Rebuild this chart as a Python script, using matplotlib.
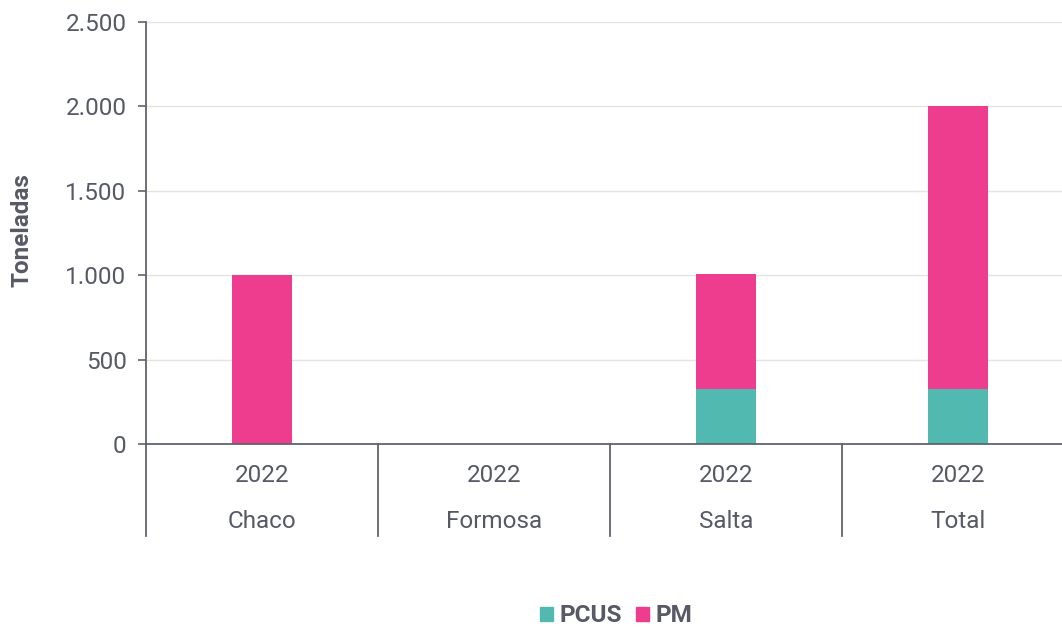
import matplotlib
matplotlib.use("Agg")
import matplotlib.pyplot as plt
from matplotlib.lines import Line2D
from matplotlib.patches import Patch
import numpy as np

regions = ["Chaco", "Formosa", "Salta", "Total"]
years = ["2022", "2022", "2022", "2022"]
pcus = [0, 0, 325, 325]
pm = [1000, 0, 680, 1680]

teal = "#52B9B0"
pink = "#EE3D8F"
txt = "#575A66"
axis_col = "#60636d"
fs = 17.5

plt.rcParams["font.family"] = ["Roboto", "DejaVu Sans"]

fig = plt.figure(figsize=(10.62, 6.29), dpi=100)
W, H = 1062, 629
ax = fig.add_axes([146 / W, (H - 444) / H, 928 / W, 422 / H])

x = np.arange(len(regions))
ax.bar(x, pcus, width=0.26, color=teal, zorder=3)
ax.bar(x, pm, width=0.26, bottom=pcus, color=pink, zorder=3)

ax.set_xlim(-0.5, 3.5)
ax.set_ylim(0, 2500)
ax.set_yticks([0, 500, 1000, 1500, 2000, 2500])
ax.set_yticklabels(["0", "500", "1.000", "1.500", "2.000", "2.500"])
ax.tick_params(axis="y", labelsize=fs, colors=axis_col, labelcolor=txt, length=6, width=1.2, pad=8)
ax.set_xticks([])
ax.grid(axis="y", color="#e3e3e3", linewidth=1, zorder=0)

for s in ["top", "right"]:
    ax.spines[s].set_visible(False)
ax.spines["left"].set_color(axis_col)
ax.spines["left"].set_linewidth(1.3)
ax.spines["bottom"].set_color(axis_col)
ax.spines["bottom"].set_linewidth(1.3)
ax.spines["bottom"].set_zorder(4)

trans = ax.get_xaxis_transform()
low = -92 / 422
for b in [-0.5, 0.5, 1.5, 2.5]:
    ax.add_line(Line2D([b, b], [0, low], transform=trans, color=axis_col,
                       linewidth=1.3, clip_on=False))

for i in x:
    ax.text(i, -32 / 422, years[i], transform=trans, ha="center", va="center",
            fontsize=fs, color=txt)
    ax.text(i, -78 / 422, regions[i], transform=trans, ha="center", va="center",
            fontsize=fs, color=txt)

fig.text(22 / W, 1 - 230 / H, "Toneladas", rotation=90, ha="center", va="center",
         fontsize=fs, fontweight="bold", color=txt)

handles = [Patch(color=teal, label="PCUS"), Patch(color=pink, label="PM")]
leg = ax.legend(handles=handles, loc="center", bbox_to_anchor=(0.5 + 6 / 928, -172 / 422),
                ncol=2, frameon=False, handlelength=0.55, handleheight=0.55,
                handletextpad=0.25, columnspacing=0.6, borderpad=0,
                prop={"size": fs, "weight": "bold"})
for t in leg.get_texts():
    t.set_color(txt)

fig.savefig("out.png", dpi=100)
